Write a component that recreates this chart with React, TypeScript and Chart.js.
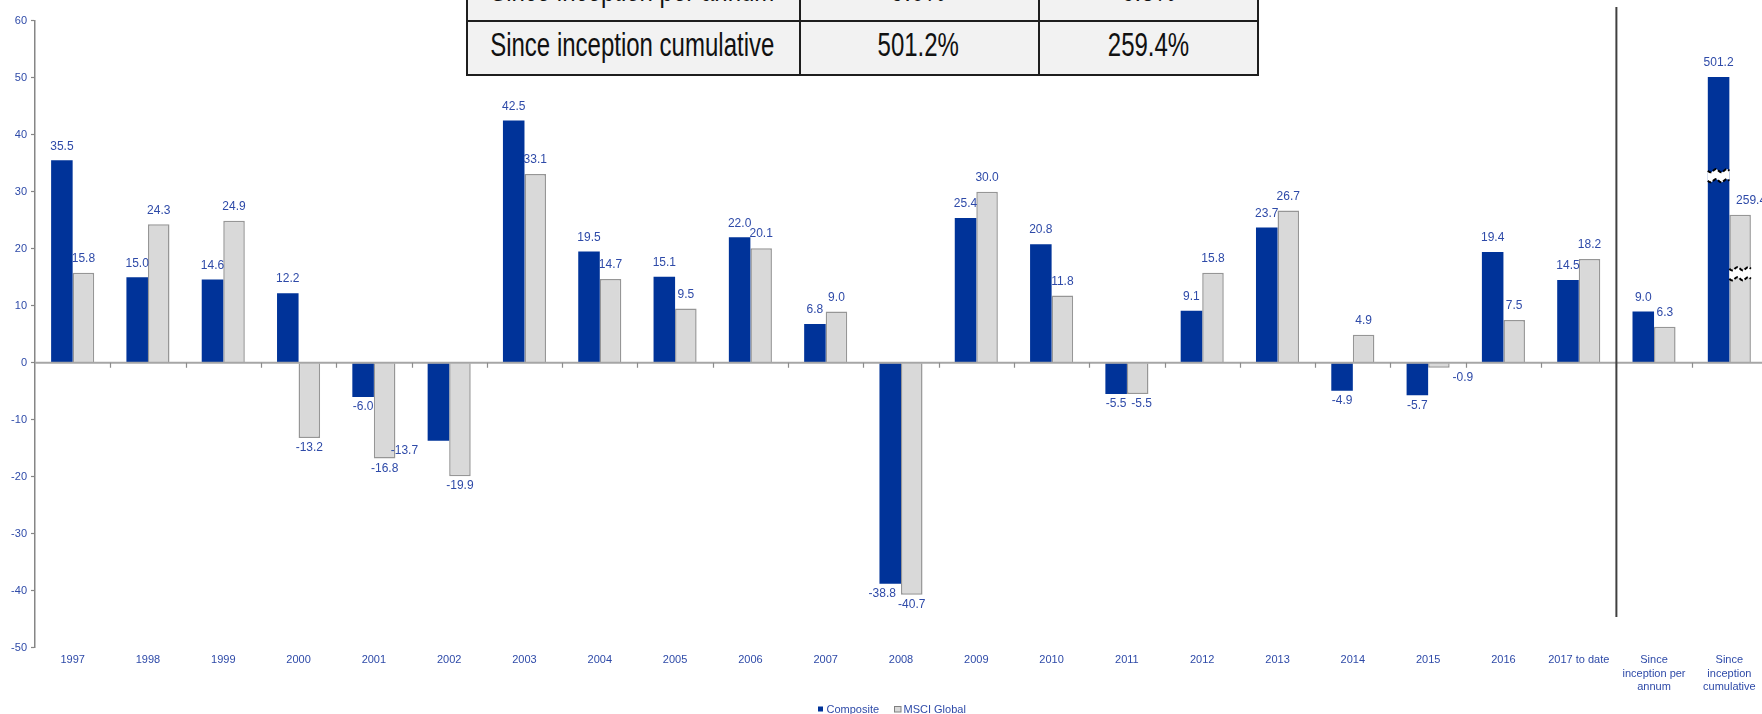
import React, { useEffect, useRef } from 'react';
import { Chart, registerables } from 'chart.js';

Chart.register(...registerables);

// ---------- data ----------
const categories: (string | string[])[] = [
  '1997', '1998', '1999', '2000', '2001', '2002', '2003', '2004', '2005', '2006',
  '2007', '2008', '2009', '2010', '2011', '2012', '2013', '2014', '2015', '2016',
  '2017 to date', ['Since', 'inception per', 'annum'], ['Since', 'inception', 'cumulative'],
];

const compositeReturns = [
  35.5, 15.0, 14.6, 12.2, -6.0, -13.7, 42.5, 19.5, 15.1, 22.0,
  6.8, -38.8, 25.4, 20.8, -5.5, 9.1, 23.7, -4.9, -5.7, 19.4,
  14.5, 9.0, 501.2,
];

const msciReturns = [
  15.8, 24.3, 24.9, -13.2, -16.8, -19.9, 33.1, 14.7, 9.5, 20.1,
  9.0, -40.7, 30.0, 11.8, -5.5, 15.8, 26.7, 4.9, -0.9, 7.5,
  18.2, 6.3, 259.4,
];

const seriesNames = ['Composite', 'MSCI Global'];

// the cumulative category is drawn on a broken (1/10) axis
const brokenIndex = 22;
const brokenFactor = 0.1;
const breakMarkValues = [32.8, 15.6]; // where the break symbols sit, in axis units

const yMin = -50;
const yMax = 60;
const yStep = 10;

const tableRowLabels = ['Since inception per annum', 'Since inception cumulative'];
const tableComposite = ['9.0%', '501.2%'];
const tableMsci = ['6.3%', '259.4%'];

// manual label nudges (px) as in the original
const compositeLabelShift: Record<number, number> = { 5: -34, 11: -8 };
const msciLabelShift: Record<number, number> = { 14: 4, 18: 24, 22: 11 };

// ---------- styles ----------
const BLUE = '#003399';
const GREY_FILL = '#d9d9d9';
const GREY_BORDER = '#969696';
const TEXT_BLUE = '#2e4aa8';
const FONT = "'Liberation Sans', Arial, sans-serif";

const plotted = (arr: number[]) => arr.map((v, i) => (i === brokenIndex ? v * brokenFactor : v));

const overlayPlugin = {
  id: 'overlayPlugin',
  afterDatasetsDraw(chart: any) {
    const { ctx, chartArea, scales } = chart;
    const yScale = scales.y;
    const y0 = yScale.getPixelForValue(0);
    const n = categories.length;
    const w = (chartArea.right - chartArea.left) / n;
    ctx.save();

    // zero axis line
    ctx.strokeStyle = '#a6a6a6';
    ctx.lineWidth = 2;
    ctx.beginPath();
    ctx.moveTo(chartArea.left, y0);
    ctx.lineTo(chartArea.right, y0);
    ctx.stroke();

    // category tick marks
    ctx.lineWidth = 1.2;
    ctx.strokeStyle = '#8c8c8c';
    ctx.beginPath();
    for (let i = 1; i <= n; i++) {
      const x = Math.round(chartArea.left + i * w) + 0.5;
      ctx.moveTo(x, y0);
      ctx.lineTo(x, y0 + 5);
    }
    ctx.stroke();

    // separator between yearly and since-inception figures
    const sepX = chartArea.left + 21 * w;
    ctx.strokeStyle = '#404040';
    ctx.lineWidth = 2;
    ctx.beginPath();
    ctx.moveTo(sepX, 7);
    ctx.lineTo(sepX, 617);
    ctx.stroke();

    // break symbols on the cumulative bars
    [0, 1].forEach((d) => {
      const el: any = chart.getDatasetMeta(d).data[brokenIndex];
      if (!el) return;
      const { x, width } = el.getProps(['x', 'width'], true);
      const left = x - width / 2;
      const right = x + width / 2;
      const yc = yScale.getPixelForValue(breakMarkValues[d]);
      const amp = 1.6;
      const steps = 24;
      const topY = (t: number) => yc - 5 + amp * Math.sin(t * Math.PI * 4);
      const botY = (t: number) => yc + 5 + amp * Math.sin(t * Math.PI * 4);
      ctx.beginPath();
      for (let s = 0; s <= steps; s++) {
        const t = s / steps;
        const px = left + t * (right - left);
        if (s === 0) ctx.moveTo(px, topY(t));
        else ctx.lineTo(px, topY(t));
      }
      for (let s = steps; s >= 0; s--) {
        const t = s / steps;
        ctx.lineTo(left + t * (right - left), botY(t));
      }
      ctx.closePath();
      ctx.fillStyle = '#ffffff';
      ctx.fill();
      ctx.strokeStyle = '#000000';
      ctx.lineWidth = 2;
      ctx.setLineDash([4, 2]);
      ctx.beginPath();
      for (let s = 0; s <= steps; s++) {
        const t = s / steps;
        const px = left + t * (right - left);
        if (s === 0) ctx.moveTo(px, topY(t));
        else ctx.lineTo(px, topY(t));
      }
      ctx.stroke();
      ctx.beginPath();
      for (let s = 0; s <= steps; s++) {
        const t = s / steps;
        const px = left + t * (right - left);
        if (s === 0) ctx.moveTo(px, botY(t));
        else ctx.lineTo(px, botY(t));
      }
      ctx.stroke();
      ctx.setLineDash([]);
    });

    // data labels
    ctx.font = `12px ${FONT}`;
    ctx.fillStyle = TEXT_BLUE;
    ctx.textAlign = 'center';
    ctx.textBaseline = 'middle';
    const sources = [compositeReturns, msciReturns];
    const shifts = [compositeLabelShift, msciLabelShift];
    sources.forEach((values, d) => {
      const meta = chart.getDatasetMeta(d);
      meta.data.forEach((el: any, i: number) => {
        const v = values[i];
        const { x, y } = el.getProps(['x', 'y'], true);
        const ly = v >= 0 ? y - 14 : y + 10;
        ctx.fillText(v.toFixed(1), x + (shifts[d][i] || 0), ly);
      });
    });

    // legend
    ctx.font = `11px ${FONT}`;
    ctx.textAlign = 'left';
    ctx.fillStyle = BLUE;
    ctx.fillRect(818, 706.5, 5, 5);
    ctx.fillStyle = TEXT_BLUE;
    ctx.fillText(seriesNames[0], 826.5, 709.5);
    ctx.fillStyle = GREY_FILL;
    ctx.fillRect(894.5, 706.5, 6.5, 5.5);
    ctx.strokeStyle = '#808080';
    ctx.lineWidth = 1;
    ctx.strokeRect(894.5, 706.5, 6.5, 5.5);
    ctx.fillStyle = TEXT_BLUE;
    ctx.fillText(seriesNames[1], 903.5, 709.5);

    ctx.restore();
  },
};

function PerformanceTable() {
  const left = 466;
  const right = 1259;
  const colA = 798.5;
  const colB = 1038;
  const top = -34;
  const rowDiv = 20;
  const bottom = 76;
  const textStyle = (l: number, r: number, t: number): React.CSSProperties => ({
    position: 'absolute',
    left: l,
    width: r - l,
    top: t,
    height: 24,
    lineHeight: '24px',
    fontSize: 24,
    fontFamily: FONT,
    color: '#111111',
    textAlign: 'center',
    whiteSpace: 'nowrap',
    transform: 'scaleY(1.4)',
  });
  const textTops = [-22.3, 33];
  return (
    <>
      <div
        style={{
          position: 'absolute',
          left,
          top,
          width: right - left,
          height: bottom - top,
          background: '#f2f2f2',
          border: '2px solid #1e1e1e',
          boxSizing: 'border-box',
        }}
      />
      <div style={{ position: 'absolute', left, top: rowDiv, width: right - left, height: 2, background: '#1e1e1e' }} />
      <div style={{ position: 'absolute', left: colA, top, width: 2, height: bottom - top, background: '#1e1e1e' }} />
      <div style={{ position: 'absolute', left: colB, top, width: 2, height: bottom - top, background: '#1e1e1e' }} />
      {tableRowLabels.map((lab, r) => (
        <React.Fragment key={lab}>
          <div style={textStyle(left, colA, textTops[r])}>{lab}</div>
          <div style={textStyle(colA, colB, textTops[r])}>{tableComposite[r]}</div>
          <div style={textStyle(colB, right, textTops[r])}>{tableMsci[r]}</div>
        </React.Fragment>
      ))}
    </>
  );
}

export default function App() {
  const canvasRef = useRef<HTMLCanvasElement | null>(null);

  useEffect(() => {
    document.body.style.margin = '0';
    document.body.style.overflow = 'hidden';
    const canvas = canvasRef.current;
    if (!canvas) return;
    const chart = new Chart(canvas, {
      type: 'bar',
      data: {
        labels: categories as any,
        datasets: [
          {
            label: seriesNames[0],
            data: plotted(compositeReturns),
            backgroundColor: BLUE,
            borderWidth: 0,
            categoryPercentage: 0.572,
            barPercentage: 1,
          },
          {
            label: seriesNames[1],
            data: plotted(msciReturns),
            backgroundColor: GREY_FILL,
            borderColor: GREY_BORDER,
            borderWidth: 1.5,
            categoryPercentage: 0.572,
            barPercentage: 1,
          },
        ],
      },
      options: {
        responsive: false,
        animation: false,
        devicePixelRatio: 1,
        layout: { padding: { top: 20.7, right: 8, bottom: 0, left: 0 } },
        plugins: {
          legend: { display: false },
          tooltip: { enabled: false },
        },
        scales: {
          x: {
            grid: { display: false },
            border: { display: false },
            ticks: {
              autoSkip: false,
              maxRotation: 0,
              minRotation: 0,
              padding: -2.5,
              color: TEXT_BLUE,
              font: { family: FONT, size: 11, lineHeight: 1.23 },
            },
            afterFit: (s: any) => {
              s.height = 66.3;
            },
          },
          y: {
            min: yMin,
            max: yMax,
            ticks: {
              stepSize: yStep,
              padding: 4,
              color: TEXT_BLUE,
              font: { family: FONT, size: 11 },
            },
            grid: {
              drawOnChartArea: false,
              drawTicks: true,
              tickLength: 4,
              tickColor: '#868686',
              tickWidth: 1.2,
            },
            border: { display: true, color: '#868686', width: 1.5 },
            afterFit: (s: any) => {
              s.width = 35;
            },
          },
        },
      },
      plugins: [overlayPlugin],
    });
    return () => chart.destroy();
  }, []);

  return (
    <div style={{ position: 'relative', width: 1762, height: 714, overflow: 'hidden', background: '#ffffff' }}>
      <canvas ref={canvasRef} width={1775} height={714} style={{ display: 'block', position: 'absolute', left: 0, top: 0 }} />
      <PerformanceTable />
    </div>
  );
}
